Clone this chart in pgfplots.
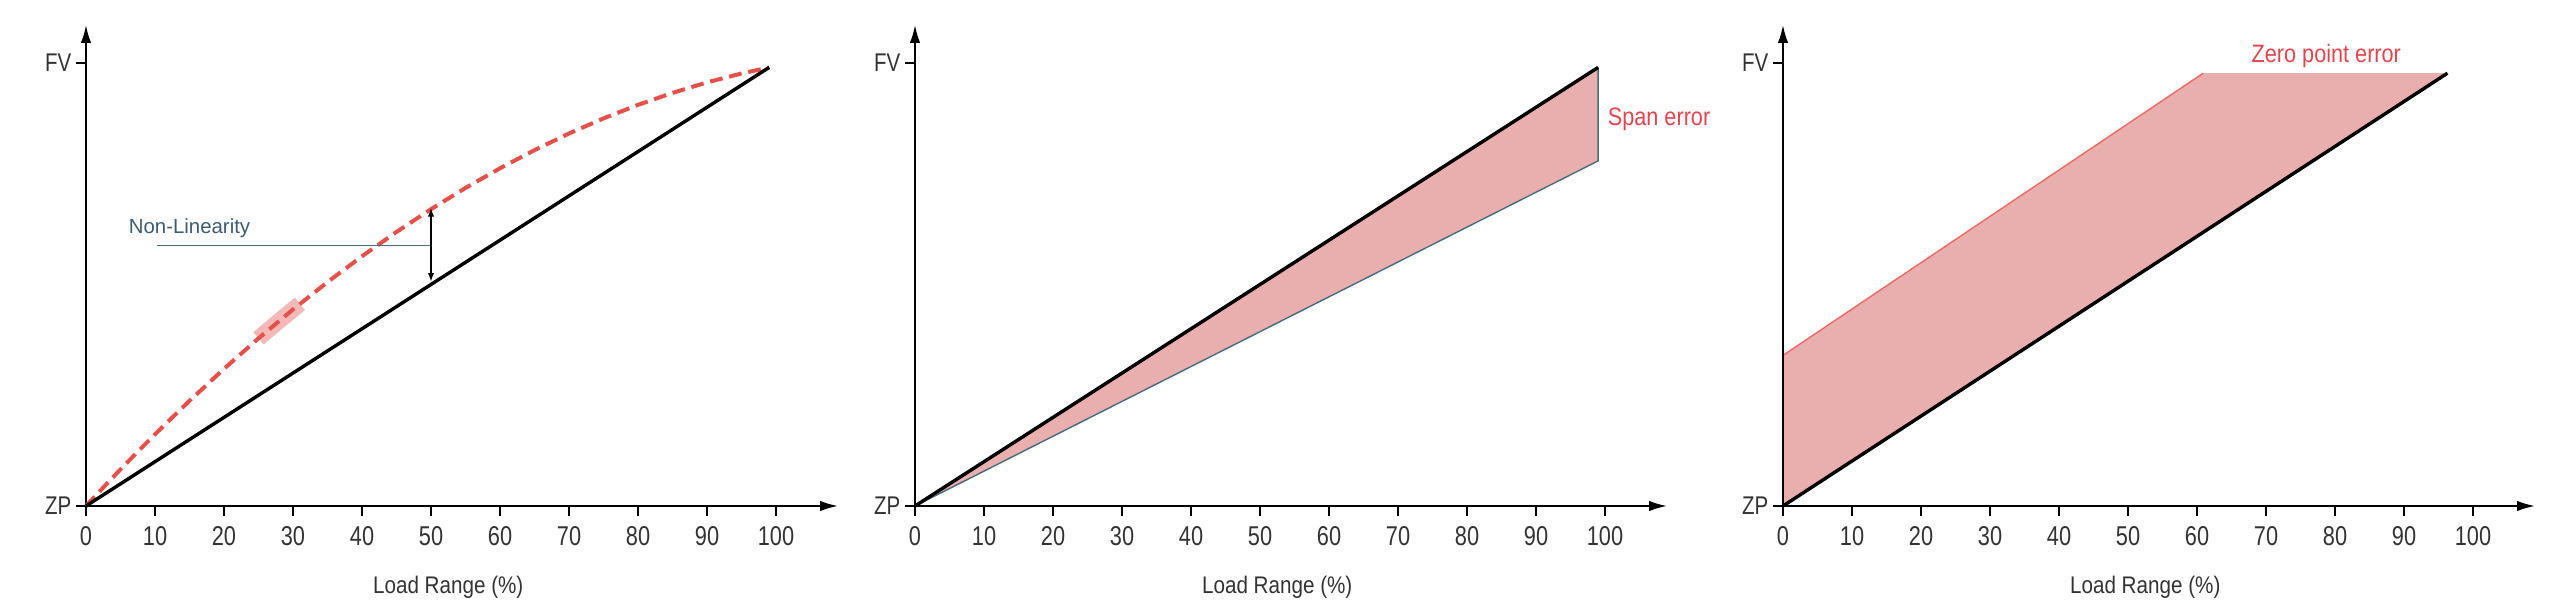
\documentclass[border=0pt]{standalone}
\usepackage{pgfplots}
\pgfplotsset{compat=1.18}
\usetikzlibrary{arrows.meta}
\usepackage{fontspec}
\setmainfont{Liberation Sans}
\newfontfamily\condA{Liberation Sans}[FakeStretch=0.8]
\newfontfamily\condB{Liberation Sans}[FakeStretch=0.86]
\definecolor{fillpink}{HTML}{E9AEAE}
\definecolor{redline}{HTML}{E5504A}
\definecolor{redtext}{HTML}{E0464E}
\definecolor{slate}{HTML}{3E5C70}
\definecolor{slateline}{HTML}{4A6A7E}
\definecolor{hl}{HTML}{EE9A9A}
\definecolor{txt}{HTML}{333333}
\pgfplotsset{
  panel/.style={
    x=1.725pt, y=1.1075pt,
    xmin=0, xmax=109, ymin=0, ymax=108.6,
    enlargelimits=false, clip=false,
    axis lines=left,
    axis line style={line width=0.5pt, black, -{Latex[length=4.5pt,width=2.6pt]}},
    xtick={0,10,...,100}, ytick={0,100}, yticklabels={ZP,FV},
    tick align=outside, major tick length=2.5pt,
    tick style={line width=0.5pt, black},
    /pgf/number format/assume math mode=true,
    xticklabel style={font=\condA\fontsize{6.8}{7}\selectfont, text=txt, inner sep=1pt, yshift=-1.5pt},
    yticklabel style={font=\condA\fontsize{6.4}{7}\selectfont, text=txt, inner sep=1pt},
    anchor=south west,
  },
}
\newcommand{\xlab}{\node[anchor=base, font=\condB\fontsize{6}{7}\selectfont, text=txt, yshift=-22pt] at (axis cs:52.5,0) {Load Range (\%)};}
\begin{document}
\begin{tikzpicture}
\useasboundingbox (0,0) rectangle (640pt,151.75pt);
% Panel 1: Non-linearity
\begin{axis}[panel, at={(21.5pt,25.25pt)}]
\addplot[hl, opacity=0.7, line width=4pt, line cap=butt] coordinates {(25,37.84) (28,41.8) (31,45.63)};
\addplot[redline, line width=1pt, dash pattern=on 3.2pt off 1.7pt] coordinates {
(0,0) (2.5,4.17) (5,8.26) (7.5,12.26) (10,16.18) (15,23.74) (20,30.96) (25,37.84) (30,44.36) (35,50.54) (40,56.37) (45,61.86) (50,67.0) (55,71.79) (60,76.23) (65,80.33) (70,84.08) (75,87.49) (80,90.54) (85,93.25) (90,95.62) (95,97.63) (99,98.99)};
\addplot[black, line width=0.85pt] coordinates {(0,0) (99,99)};
\addplot[slateline, line width=0.35pt] coordinates {(10.3,58.8) (50,58.8)};
\addplot[black, line width=0.4pt, {Latex[length=2.2pt,width=1.6pt]}-{Latex[length=2.2pt,width=1.6pt]}] coordinates {(50,50.6) (50,67.3)};
\node[anchor=base west, font=\fontsize{5.1}{6}\selectfont, text=slate, inner sep=0pt] at (axis cs:6.1,61.6) {Non-Linearity};
\xlab
\end{axis}
% Panel 2: Span error (label cut at the panel edge as in the original)
\begin{scope}
\clip (0,0) rectangle (427.25pt,151.75pt);
\begin{axis}[panel, at={(228.75pt,25.25pt)}]
\addplot[fill=fillpink, draw=none] coordinates {(0,0) (99,99) (99,77.9) (0,0)};
\addplot[slateline, line width=0.35pt] coordinates {(0,0) (99,77.9) (99,99)};
\addplot[black, line width=0.85pt] coordinates {(0,0) (99,99)};
\node[anchor=base west, font=\condB\fontsize{6.3}{7}\selectfont, text=redtext, inner sep=0pt] at (axis cs:100.3,85.8) {Span error};
\xlab
\end{axis}
\end{scope}
% Panel 3: Zero point error
\begin{axis}[panel, at={(445.75pt,25.25pt)}, axis on top]
\addplot[fill=fillpink, draw=none] coordinates {(0,0) (0,34) (60.9,97.7) (96.3,97.7) (0,0)};
\addplot[redline!85, line width=0.35pt] coordinates {(0,34) (60.9,97.7)};
\addplot[black, line width=0.85pt] coordinates {(0,0) (96.3,97.7)};
\node[anchor=base west, font=\condB\fontsize{6.3}{7}\selectfont, text=redtext, inner sep=0pt] at (axis cs:67.8,100) {Zero point error};
\xlab
\end{axis}
\end{tikzpicture}
\end{document}
